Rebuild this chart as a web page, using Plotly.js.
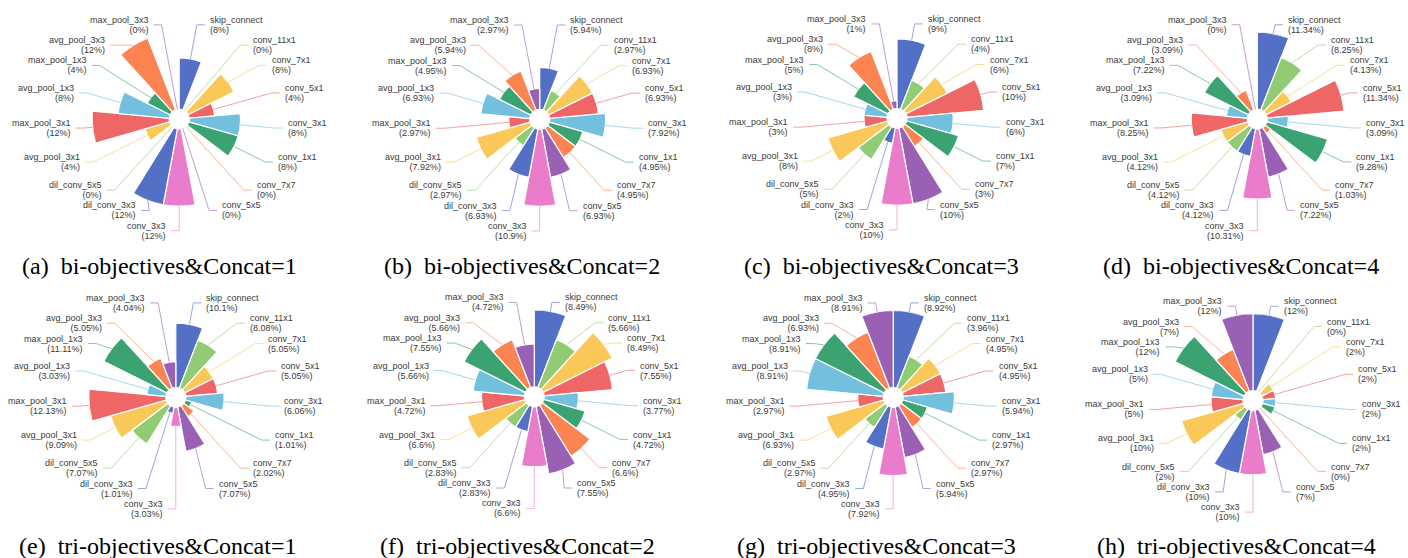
<!DOCTYPE html>
<html><head><meta charset="utf-8">
<script src="https://cdn.plot.ly/plotly-3.0.1.min.js"></script>
<style>html,body{margin:0;padding:0;background:#fff;} #chart{width:1408px;height:558px;}</style>
</head><body><div id="chart"></div>
<script>
// ---------- data ----------
const categories = ['skip_connect','conv_11x1','conv_7x1','conv_5x1','conv_3x1','conv_1x1','conv_7x7','conv_5x5','conv_3x3','dil_conv_3x3','dil_conv_5x5','avg_pool_3x1','max_pool_3x1','avg_pool_1x3','max_pool_1x3','avg_pool_3x3','max_pool_3x3'];
const biConcat1  = [8, 0, 8, 4, 8, 8, 0, 0, 12, 12, 0, 4, 12, 8, 4, 12, 0];
const biConcat2  = [5.94, 2.97, 6.93, 6.93, 7.92, 4.95, 4.95, 6.93, 10.9, 6.93, 2.97, 7.92, 2.97, 6.93, 4.95, 5.94, 2.97];
const biConcat3  = [9, 4, 6, 10, 6, 7, 3, 10, 10, 2, 5, 8, 3, 3, 5, 8, 1];
const biConcat4  = [11.34, 8.25, 4.13, 11.34, 3.09, 9.28, 1.03, 7.22, 10.31, 4.12, 4.12, 4.12, 8.25, 3.09, 7.22, 3.09, 0];
const triConcat1 = [10.1, 8.08, 5.05, 5.05, 6.06, 1.01, 2.02, 7.07, 3.03, 1.01, 7.07, 9.09, 12.13, 3.03, 11.11, 5.05, 4.04];
const triConcat2 = [8.49, 5.66, 8.49, 7.55, 3.77, 4.72, 6.6, 7.55, 6.6, 2.83, 2.83, 6.6, 4.72, 5.66, 7.55, 5.66, 4.72];
const triConcat3 = [8.92, 3.96, 4.95, 4.95, 5.94, 2.97, 2.97, 5.94, 7.92, 4.95, 2.97, 6.93, 2.97, 8.91, 8.91, 6.93, 8.91];
const triConcat4 = [12, 0, 2, 2, 2, 2, 0, 7, 10, 10, 2, 10, 5, 5, 12, 7, 12];
const captions = ['(a)\u00a0\u00a0bi-objectives&Concat=1','(b)\u00a0\u00a0bi-objectives&Concat=2','(c)\u00a0\u00a0bi-objectives&Concat=3','(d)\u00a0\u00a0bi-objectives&Concat=4',
                  '(e)\u00a0\u00a0tri-objectives&Concat=1','(f)\u00a0\u00a0tri-objectives&Concat=2','(g)\u00a0\u00a0tri-objectives&Concat=3','(h)\u00a0\u00a0tri-objectives&Concat=4'];
const series = [biConcat1, biConcat2, biConcat3, biConcat4, triConcat1, triConcat2, triConcat3, triConcat4];

// ---------- style / layout ----------
const palette = ['#5470c6','#91cc75','#fac858','#ee6666','#73c0de','#3ba272','#fc8452','#9a60b4','#ea7ccc'];
const W = 1408, H = 558;
const centers = [[179.2,119.2],[539.7,119.4],[897,118.3],[1257.3,119.1],[175.8,397.3],[534.3,396.8],[893.2,397.3],[1253,400.6]];
const captionPos = [[159,266],[522,266],[881,266],[1241,266],[157,546],[517,546],[876,546],[1236,546]];
const R = 87, R0 = 10, RE = 96, LEN2 = 8, DIST = 4, LABEL_H = 20.3;
const LABEL_FONT = 9, LINE_FONT = 7.8; // line spacing = 1.3 * LINE_FONT ≈ 10px
const fx = x => x / W, fy = y => 1 - y / H;

const traces = [], shapes = [], annotations = [];
const layout = {
  width: W, height: H, margin: {l:0, r:0, t:0, b:0}, showlegend: false,
  paper_bgcolor: '#fff', plot_bgcolor: '#fff'
};

const n = categories.length, step = 360 / n;
series.forEach((vals, k) => {
  const [cx, cy] = centers[k];
  const name = k === 0 ? 'polar' : 'polar' + (k + 1);
  const vmax = Math.max(...vals);
  const colors = categories.map((_, i) => palette[i % palette.length]);
  traces.push({
    type: 'barpolar', subplot: name, r: vals, theta: categories,
    marker: {color: colors, line: {color: '#ffffff', width: 1.2}},
    hovertemplate: '%{theta}: %{r}%<extra></extra>'
  });
  layout[name] = {
    domain: {x: [fx(cx - R), fx(cx + R)], y: [fy(cy + R), fy(cy - R)]},
    hole: R0 / R, bargap: 0, bgcolor: 'rgba(0,0,0,0)',
    radialaxis: {visible: false, range: [0, vmax]},
    angularaxis: {visible: false, type: 'category', categoryarray: categories, rotation: 90 - step / 2, direction: 'clockwise'}
  };

  // label layout (rose chart style with leader lines)
  const items = categories.map((cat, i) => {
    const a = (90 - (i + 0.5) * step) * Math.PI / 180;
    const dx = Math.cos(a), dy = -Math.sin(a);
    const ri = R0 + (R - R0) * vals[i] / vmax;
    return {cat, i, v: vals[i], left: dx < 1e-9, x1: cx + ri * dx, y1: cy + ri * dy, x2: cx + RE * dx, y2: cy + RE * dy};
  });
  [true, false].forEach(side => {
    const list = items.filter(it => it.left === side).sort((a, b) => a.y2 - b.y2);
    let last = -Infinity;
    list.forEach(it => {
      let y = it.y2;
      if (y < last + LABEL_H) y = last + LABEL_H;
      if (y !== it.y2) {
        const d = y - cy;
        if (Math.abs(d) < RE) it.x2 = cx + (it.left ? -1 : 1) * Math.sqrt(RE * RE - d * d);
        it.y2 = y;
      }
      last = it.y2;
    });
  });
  items.forEach(it => {
    const sgn = it.left ? -1 : 1;
    const x3 = it.x2 + sgn * LEN2, y3 = it.y2;
    shapes.push({
      type: 'path', xref: 'paper', yref: 'paper',
      path: `M${fx(it.x1)},${fy(it.y1)}L${fx(it.x2)},${fy(it.y2)}L${fx(x3)},${fy(y3)}`,
      line: {color: palette[it.i % palette.length], width: 1}, opacity: 0.6
    });
    const sp = `<span style="font-size:${LABEL_FONT}px">`;
    annotations.push({
      xref: 'paper', yref: 'paper', showarrow: false, x: fx(x3 + sgn * DIST), y: fy(y3),
      xanchor: it.left ? 'right' : 'left', yanchor: 'middle', align: it.left ? 'right' : 'left',
      borderpad: 0, font: {family: 'Liberation Sans, Arial, sans-serif', size: LINE_FONT, color: '#3a3a3a'},
      text: `${sp}${it.cat}</span><br>${sp}(${it.v}%)</span>`
    });
  });

  annotations.push({
    xref: 'paper', yref: 'paper', showarrow: false, x: fx(captionPos[k][0]), y: fy(captionPos[k][1]),
    xanchor: 'center', yanchor: 'middle', text: captions[k],
    font: {family: 'Liberation Serif, Times New Roman, serif', size: 24, color: '#000'}
  });
});

layout.shapes = shapes;
layout.annotations = annotations;
Plotly.newPlot('chart', traces, layout, {displayModeBar: false});
</script>
</body></html>
